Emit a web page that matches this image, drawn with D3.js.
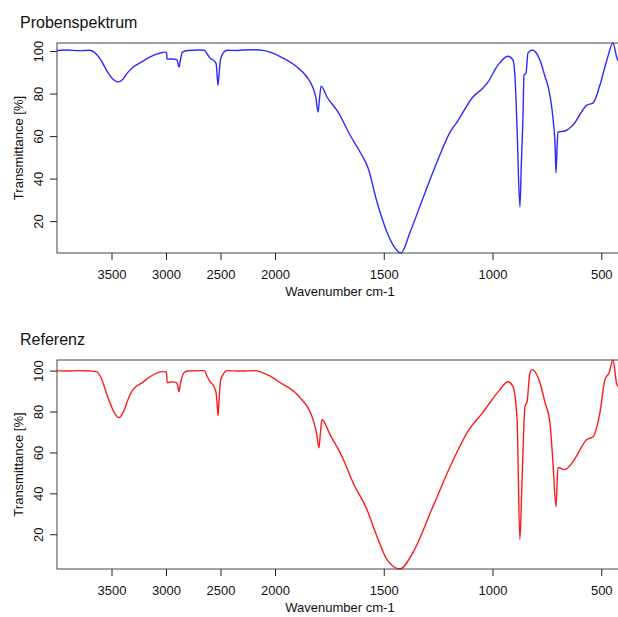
<!DOCTYPE html>
<html>
<head>
<meta charset="utf-8">
<script src="https://cdn.jsdelivr.net/npm/d3@7"></script>
<style>
  body { margin: 0; background: #fff; }
  text { font-family: "Liberation Sans", Arial, Helvetica, sans-serif; fill: #111; }
</style>
</head>
<body>
<div id="vis"></div>
<script>
// Frame size
const FRAME_WIDTH = 618;
const FRAME_HEIGHT = 617;

// Data: wavenumbers (cm-1) and transmittance (%)
const sampleWn = [4000, 3900, 3800, 3700, 3660, 3600, 3540, 3480, 3440, 3400, 3350, 3300, 3220, 3150, 3060, 3010,
  2995, 2990, 2940, 2900, 2885, 2880, 2870, 2850, 2800, 2700, 2650, 2620, 2596, 2560, 2540, 2530, 2523, 2515, 2500,
  2477, 2440, 2350, 2300, 2200, 2100, 2046, 1963, 1899, 1853, 1825, 1812, 1802, 1795, 1788, 1761, 1710, 1655, 1609,
  1572, 1531, 1485, 1448, 1421, 1379, 1320, 1255, 1195, 1163, 1090, 1045, 1021, 975, 929, 906, 895, 886, 874, 868,
  860, 855, 846, 837, 818, 782, 760, 736, 722, 712, 708, 703, 699, 667, 630, 566, 538, 506, 474, 446, 428, 400];
const sampleT = [100.3, 100.5, 100.2, 100.4, 99.5, 96, 90.5, 86.5, 85.5, 86.5, 90, 92.5, 95, 97.2, 99, 99.5,
  99.3, 96.2, 96.3, 96, 93, 92.5, 95, 99.5, 100.3, 100.5, 100.4, 98.5, 96.7, 95.5, 94, 88, 84, 88, 96,
  99, 100.4, 100.3, 100.5, 100.6, 100.2, 99.5, 96.7, 92.5, 87.8, 82.6, 78, 71.3, 78, 83.5, 78.4, 71.3, 60.5, 52.5,
  45, 29, 14.8, 7.3, 5, 14.8, 30.8, 47.8, 61.9, 66.6, 78.4, 82.5, 85.4, 93.4, 97.6, 95.8, 85, 60, 26.6, 45,
  68.5, 88.7, 89.6, 99, 100.5, 95.8, 88.5, 79.3, 68.5, 55, 42.6, 55, 61.9, 62.4, 65.2, 74.6, 75.5, 84, 95.8, 103.8, 96.7, 93];

const refWn = [4000, 3900, 3800, 3700, 3640, 3600, 3540, 3480, 3431, 3390, 3340, 3303, 3220, 3147, 3028, 2995,
  2990, 2940, 2900, 2885, 2881, 2870, 2835, 2800, 2700, 2650, 2620, 2596, 2560, 2540, 2530, 2523, 2515, 2500, 2477,
  2440, 2300, 2200, 2138, 2073, 1977, 1885, 1825, 1808, 1798, 1791, 1784, 1747, 1692, 1641, 1577, 1531, 1485, 1425,
  1366, 1274, 1195, 1103, 1045, 1025, 966, 929, 906, 887, 874, 866, 860, 851, 841, 828, 818, 782, 760, 736, 722, 708,
  699, 667, 630, 566, 538, 506, 483, 464, 446, 428, 400];
const refT = [100, 99.8, 100, 99.8, 99.5, 97, 88, 80, 77, 80, 87, 90.7, 94, 97, 99.5, 99.2,
  94.2, 94.5, 94, 90.5, 89.7, 93, 99, 99.8, 100, 100, 97, 94.6, 92.2, 89, 83, 78, 84, 95, 98,
  100, 99.8, 100, 99.5, 98, 94.2, 86.8, 76, 69, 62.3, 70, 76, 68.7, 58, 45.2, 32, 18.8, 7.6, 3,
  11, 33.5, 53, 72, 79.5, 82.4, 90.7, 94.6, 92.2, 76, 17.4, 40, 59.9, 82.4, 84.8, 99, 100.5, 94.2, 85, 74.6, 55, 33.5,
  52.6, 51.6, 55.5, 66.3, 67.7, 79.5, 95.6, 99, 105.2, 93.2, 90];

// Axis ticks
const xTicks = [3500, 3000, 2500, 2000, 1500, 1000, 500];
const yTicks = [20, 40, 60, 80, 100];

// Plot area (shared x, scale compressed above 2000 cm-1)
const PLOT_LEFT = 57;
const PLOT_RIGHT = 623;
const X_SCALE = d3.scaleLinear()
                  .domain([4000, 2000, 400])
                  .range([PLOT_LEFT, 275, PLOT_RIGHT]);

const FRAME = d3.select("#vis")
                .append("svg")
                  .attr("width", FRAME_WIDTH)
                  .attr("height", FRAME_HEIGHT);

// Draws one spectrum panel
function drawPanel(title, wn, t, color, top, bottom) {
  const data = wn.map((w, i) => ({w: w, t: t[i]}));

  // y range is the data range (touches the box)
  const Y_SCALE = d3.scaleLinear()
                    .domain(d3.extent(t))
                    .range([bottom, top]);

  // Title
  FRAME.append("text")
    .attr("x", 20)
    .attr("y", top - 15)
    .style("font-size", "16px")
    .text(title);

  // Curve, clipped to the plot region
  const clipId = "clip" + top;
  FRAME.append("clipPath")
    .attr("id", clipId)
    .append("rect")
      .attr("x", PLOT_LEFT)
      .attr("y", top - 1)
      .attr("width", PLOT_RIGHT - PLOT_LEFT)
      .attr("height", bottom - top + 2);

  const line = d3.line()
                 .x((d) => X_SCALE(d.w))
                 .y((d) => Y_SCALE(d.t))
                 .curve(d3.curveMonotoneX);

  FRAME.append("path")
    .datum(data)
    .attr("clip-path", "url(#" + clipId + ")")
    .attr("d", line)
    .attr("fill", "none")
    .attr("stroke", color)
    .attr("stroke-width", 1.4)
    .attr("stroke-linejoin", "round");

  // Box
  FRAME.append("rect")
    .attr("x", PLOT_LEFT)
    .attr("y", top)
    .attr("width", PLOT_RIGHT - PLOT_LEFT)
    .attr("height", bottom - top)
    .attr("fill", "none")
    .attr("stroke", "#444")
    .attr("stroke-width", 1);

  // x axis
  const xAxis = FRAME.append("g")
    .attr("transform", "translate(0," + bottom + ")")
    .call(d3.axisBottom(X_SCALE).tickValues(xTicks).tickSize(7).tickSizeOuter(0).tickFormat(d3.format("d")));
  xAxis.select(".domain").remove();
  xAxis.selectAll("line").attr("stroke", "#222");
  xAxis.selectAll("text")
    .attr("y", 26)
    .attr("dy", 0)
    .style("font-size", "13px")
    .attr("fill", "#111");

  // y axis, labels parallel to the axis
  const yAxis = FRAME.append("g")
    .attr("transform", "translate(" + PLOT_LEFT + ",0)")
    .call(d3.axisLeft(Y_SCALE).tickValues(yTicks).tickSize(7).tickSizeOuter(0));
  yAxis.select(".domain").remove();
  yAxis.selectAll("line").attr("stroke", "#222");
  yAxis.selectAll("text")
    .attr("x", null)
    .attr("dy", 0)
    .attr("transform", "translate(-14,0) rotate(-90)")
    .attr("text-anchor", "middle")
    .style("font-size", "13px")
    .attr("fill", "#111");

  // Axis labels
  FRAME.append("text")
    .attr("x", (PLOT_LEFT + PLOT_RIGHT) / 2)
    .attr("y", bottom + 43)
    .attr("text-anchor", "middle")
    .style("font-size", "13px")
    .text("Wavenumber cm-1");

  FRAME.append("text")
    .attr("transform", "translate(23," + ((top + bottom) / 2) + ") rotate(-90)")
    .attr("text-anchor", "middle")
    .style("font-size", "13px")
    .text("Transmittance [%]");
}

drawPanel("Probenspektrum", sampleWn, sampleT, "#2b2bff", 43, 253);
drawPanel("Referenz", refWn, refT, "#ff1a1a", 360, 569);
</script>
</body>
</html>
